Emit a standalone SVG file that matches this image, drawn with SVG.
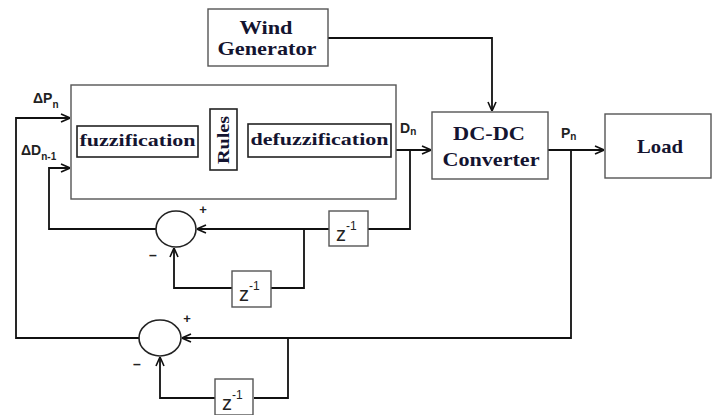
<svg xmlns="http://www.w3.org/2000/svg" width="712" height="415" viewBox="0 0 712 415">
<defs>
<style>
.box{fill:#fff;stroke:#555;stroke-width:1.4}
.ibox{fill:#fff;stroke:#222;stroke-width:1.6}
.ln{fill:none;stroke:#111;stroke-width:1.8}
.ser{font-family:"Liberation Serif","Times New Roman",serif;font-weight:bold;fill:#141430}
.sans{font-family:"Liberation Sans",Arial,sans-serif;fill:#222}
.sum{fill:#fff;stroke:#222;stroke-width:1.6}
</style>
<marker id="ar" viewBox="0 0 10 10" refX="10" refY="5" markerWidth="10" markerHeight="10" markerUnits="userSpaceOnUse" orient="auto">
<polyline points="1,1 10,5 1,9" fill="none" stroke="#111" stroke-width="1.6"/>
</marker>
</defs>
<rect width="712" height="415" fill="#fff"/>

<g id="connectors">
<polyline class="ln" points="328,38 492,38 492,111" marker-end="url(#ar)"/>
<line class="ln" x1="396" y1="150" x2="431" y2="150" marker-end="url(#ar)"/>
<line class="ln" x1="548" y1="150" x2="604" y2="150" marker-end="url(#ar)"/>
<line class="ln" x1="198" y1="141" x2="210" y2="141"/>
<line class="ln" x1="237" y1="141" x2="248" y2="141"/>
<polyline class="ln" points="410,150 410,229 368,229"/>
<line class="ln" x1="329" y1="229" x2="197" y2="229" marker-end="url(#ar)"/>
<polyline class="ln" points="304,229 304,288 271,288"/>
<polyline class="ln" points="232,288 174,288 174,248" marker-end="url(#ar)"/>
<polyline class="ln" points="156,229 49,229 49,168 70,168" marker-end="url(#ar)"/>
<polyline class="ln" points="571,150 571,338 182,338" marker-end="url(#ar)"/>
<polyline class="ln" points="288,338 288,398 254,398"/>
<polyline class="ln" points="215,398 160,398 160,357" marker-end="url(#ar)"/>
<polyline class="ln" points="139,338 16,338 16,118 70,118" marker-end="url(#ar)"/>
</g>

<g id="wind-generator">
<rect class="box" x="208" y="9" width="120" height="57"/>
<text class="ser" x="266" y="34" font-size="19" text-anchor="middle" textLength="53" lengthAdjust="spacingAndGlyphs">Wind</text>
<text class="ser" x="267" y="55" font-size="19" text-anchor="middle" textLength="99" lengthAdjust="spacingAndGlyphs">Generator</text>
</g>

<g id="fuzzy-controller">
<rect class="box" x="71" y="85" width="325" height="114"/>
</g>

<g id="fuzzification">
<rect class="ibox" x="77" y="126" width="121" height="31"/>
<text class="ser" x="137.5" y="146" font-size="16" text-anchor="middle" textLength="116" lengthAdjust="spacingAndGlyphs">fuzzification</text>
</g>

<g id="rules">
<rect class="ibox" x="210" y="109" width="27" height="61"/>
<text class="ser" transform="translate(229,140) rotate(-90)" font-size="16" text-anchor="middle" textLength="48" lengthAdjust="spacingAndGlyphs">Rules</text>
</g>

<g id="defuzzification">
<rect class="ibox" x="248" y="124" width="143" height="33"/>
<text class="ser" x="319.5" y="145" font-size="16" text-anchor="middle" textLength="138" lengthAdjust="spacingAndGlyphs">defuzzification</text>
</g>

<g id="dc-dc-converter">
<rect class="box" x="432" y="112" width="116" height="67"/>
<text class="ser" x="489" y="140" font-size="19" text-anchor="middle" textLength="72" lengthAdjust="spacingAndGlyphs">DC-DC</text>
<text class="ser" x="491" y="166" font-size="19" text-anchor="middle" textLength="97" lengthAdjust="spacingAndGlyphs">Converter</text>
</g>

<g id="load">
<rect class="box" x="605" y="114" width="106" height="64"/>
<text class="ser" x="660" y="153" font-size="19" text-anchor="middle" textLength="46" lengthAdjust="spacingAndGlyphs">Load</text>
</g>

<g id="sum1">
<ellipse class="sum" cx="176" cy="229" rx="20" ry="18"/>
<text class="sans" x="203" y="214" font-size="13" font-weight="bold" text-anchor="middle">+</text>
<text class="sans" x="153" y="260" font-size="14" font-weight="bold" text-anchor="middle">–</text>
</g>

<g id="sum2">
<ellipse class="sum" cx="160" cy="338" rx="21" ry="18"/>
<text class="sans" x="187" y="323" font-size="13" font-weight="bold" text-anchor="middle">+</text>
<text class="sans" x="137" y="369" font-size="14" font-weight="bold" text-anchor="middle">–</text>
</g>

<g id="delay1">
<rect class="box" x="329" y="211" width="39" height="35"/>
<text class="sans" x="336" y="241" font-size="20">z<tspan font-size="12" dy="-11">-1</tspan></text>
</g>

<g id="delay2">
<rect class="box" x="232" y="271" width="39" height="36"/>
<text class="sans" x="239" y="301" font-size="20">z<tspan font-size="12" dy="-11">-1</tspan></text>
</g>

<g id="delay3">
<rect class="box" x="215" y="379" width="38" height="36"/>
<text class="sans" x="222" y="410" font-size="20">z<tspan font-size="12" dy="-11">-1</tspan></text>
</g>

<g id="labels">
<text class="sans" x="33" y="103" font-size="14" font-weight="bold">ΔP<tspan font-size="10" dy="5">n</tspan></text>
<text class="sans" x="21" y="155" font-size="14" font-weight="bold">ΔD<tspan font-size="10" dy="5">n-1</tspan></text>
<text class="sans" x="400" y="133" font-size="14" font-weight="bold">D<tspan font-size="10" dy="2">n</tspan></text>
<text class="sans" x="561" y="138" font-size="14" font-weight="bold">P<tspan font-size="10" dy="2">n</tspan></text>
</g>
</svg>
